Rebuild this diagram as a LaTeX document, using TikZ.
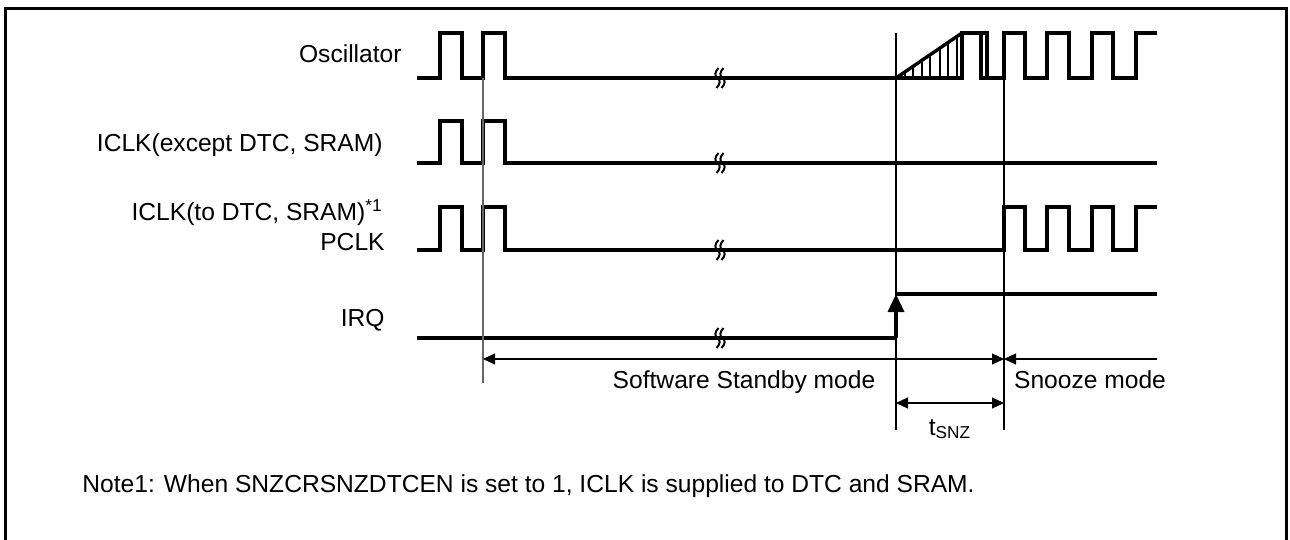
\documentclass[tikz,border=0pt]{standalone}
\usepackage{fontspec}
\setmainfont{Liberation Sans}
\usetikzlibrary{arrows.meta}
\begin{document}
\begin{tikzpicture}[x=0.5pt,y=-0.5pt,
  sig/.style={line width=1.7pt, line join=miter},
  thinline/.style={line width=0.55pt},
  hatchline/.style={line width=1.3pt},
  brkline/.style={line width=1pt},
  lbl/.style={font=\fontsize{12.3}{14}\selectfont, inner sep=0pt},
  dim/.style={line width=0.55pt},
  tip/.tip={Triangle[length=6pt,width=5.5pt]},
  brk/.pic={
    \draw[brkline] (-1.5,-10) .. controls (-5.5,-6) and (-5.5,-2) .. (-2.5,0) .. controls (0.5,2) and (0.5,6) .. (-3.5,10);
    \draw[brkline] (3.5,-10) .. controls (-0.5,-6) and (-0.5,-2) .. (2.5,0) .. controls (5.5,2) and (5.5,6) .. (1.5,10);
  }]
\useasboundingbox (0,0) rectangle (1290,540);
% frame
\draw[line width=1.5pt] (5.5,541) -- (5.5,8.5) -- (1286.5,8.5) -- (1286.5,541);

% labels
\node[lbl, anchor=base east] (losc) at (402,63) {Oscillator};
\node[lbl, anchor=base east] (lic1) at (383,152) {ICLK(except DTC, SRAM)};
\node[lbl, anchor=base east] (lic2) at (383,220) {ICLK(to DTC, SRAM)\textsuperscript{*1}};
\node[lbl, anchor=base east] (lpc) at (385,250) {PCLK};
\node[lbl, anchor=base east] (lirq) at (385,326) {IRQ};

% Oscillator
\draw[sig] (417,78) -- (440,78) -- (440,33) -- (462,33) -- (462,78) -- (483,78) -- (483,33) -- (505,33) -- (505,78) -- (962,78) -- (962,33) -- (987,33) -- (987,78);
\draw[sig] (896,78) -- (962,33);
\draw[sig] (981,33) -- (981,78) -- (1004,78) -- (1004,33) -- (1025,33) -- (1025,78) -- (1047,78) -- (1047,33) -- (1069,33) -- (1069,78) -- (1092,78) -- (1092,33) -- (1113,33) -- (1113,78) -- (1136,78) -- (1136,33) -- (1157,33);
\foreach \x in {905,913,922,930,940,948,957}
  \draw[hatchline] (\x,78) -- (\x,{78-(\x-896)*45/66});

% ICLK except
\draw[sig] (417,163) -- (440,163) -- (440,121) -- (462,121) -- (462,163) -- (483,163) -- (483,121) -- (505,121) -- (505,163) -- (1157,163);

% ICLK to DTC / PCLK
\draw[sig] (417,250) -- (440,250) -- (440,207) -- (462,207) -- (462,250) -- (483,250) -- (483,207) -- (505,207) -- (505,250) -- (1004,250) -- (1004,207) -- (1025,207) -- (1025,250) -- (1047,250) -- (1047,207) -- (1069,207) -- (1069,250) -- (1092,250) -- (1092,207) -- (1113,207) -- (1113,250) -- (1136,250) -- (1136,207) -- (1157,207);

% IRQ
\coordinate (irqlo) at (896,338);
\coordinate (irqhi) at (896,294);
\draw[sig] (417,338) -- (irqlo);
\draw[sig, -{Triangle[length=9pt,width=8pt]}] (irqlo) -- (irqhi);
\draw[sig] (irqhi) -- (1157,294);

% break marks
\foreach \yy in {78,163,250,338}
  \pic at (720,\yy) {brk};

% vertical markers
\coordinate (a1) at (483,78);  \coordinate (a2) at (483,383);
\coordinate (b1) at (896,33);  \coordinate (b2) at (896,430);
\coordinate (c1) at (1004,33); \coordinate (c2) at (1004,430);
\draw[thinline, black!60] (a1) -- (a2);
\draw[thinline] (b1) -- (b2);
\draw[thinline] (c1) -- (c2);

% mode arrows
\coordinate (s1) at (483,359);
\coordinate (s2) at (1004,359);
\coordinate (s3) at (1157,359);
\draw[dim, tip-tip] (s1) -- (s2);
\draw[dim, tip-] (s2) -- (s3);
\node[lbl, anchor=base] (lsw) at (744,388) {Software Standby mode};
\node[lbl, anchor=base] (lsn) at (1090,388) {Snooze mode};

% tSNZ
\coordinate (t1) at (896,403);
\coordinate (t2) at (1004,403);
\draw[dim, tip-tip] (t1) -- (t2);
\node[lbl, anchor=base] (ltsnz) at (950,435) {t\textsubscript{SNZ}};

% note
\node[lbl, anchor=base west] (note) at (82,492) {Note1: When SNZCRSNZDTCEN is set to 1, ICLK is supplied to DTC and SRAM.};
\end{tikzpicture}
\end{document}
